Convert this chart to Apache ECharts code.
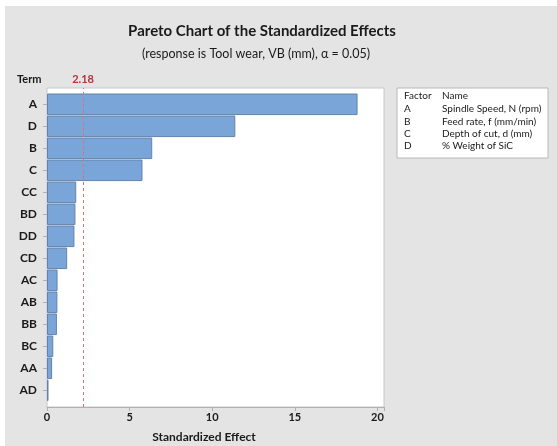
<!DOCTYPE html>
<html>
<head>
<meta charset="utf-8">
<script src="https://cdn.jsdelivr.net/npm/echarts@6/dist/echarts.min.js"></script>
<style>
  html, body { margin: 0; padding: 0; background: #ffffff; }
  #main { position: absolute; left: 5px; top: 6px; width: 552px; height: 440px; background: #e4e4e4; }
</style>
</head>
<body>
<div id="main"></div>
<script>
// terms, top to bottom
var terms = ["A", "D", "B", "C", "CC", "BD", "DD", "CD", "AC", "AB", "BB", "BC", "AA", "AD"];
var effects = [18.8, 11.4, 6.37, 5.78, 1.77, 1.72, 1.66, 1.22, 0.64, 0.63, 0.6, 0.38, 0.31, 0.09];
var xTicks = [0, 5, 10, 15, 20];
var critical = 2.18;
var factorKeys = ["A", "B", "C", "D"];
var factorNames = ["Spindle Speed, N (rpm)", "Feed rate, f (mm/min)", "Depth of cut, d (mm)", "% Weight of SiC"];

var FONT = "Lato";
var myChart = echarts.init(document.getElementById("main"));

// legend table on the right
var legendFont = "10px " + FONT;
var legendItems = [
  { type: "rect", shape: { x: 392, y: 82, width: 151, height: 70 },
    style: { fill: "#ffffff", stroke: "#b8b8b8", lineWidth: 1 } },
  { type: "text", x: 399, y: 90, style: { text: "Factor", font: legendFont, fill: "#1a1a1a", verticalAlign: "middle" } },
  { type: "text", x: 437, y: 90, style: { text: "Name", font: legendFont, fill: "#1a1a1a", verticalAlign: "middle" } }
];
for (var i = 0; i < factorKeys.length; i++) {
  legendItems.push({ type: "text", x: 399, y: 103 + i * 12.3,
    style: { text: factorKeys[i], font: legendFont, fill: "#1a1a1a", verticalAlign: "middle" } });
  legendItems.push({ type: "text", x: 437, y: 103 + i * 12.3,
    style: { text: factorNames[i], font: legendFont, fill: "#1a1a1a", verticalAlign: "middle" } });
}

var option = {
  animation: false,
  title: [
    { text: "Pareto Chart of the Standardized Effects", left: 252, top: 13, textAlign: "center",
      textStyle: { fontFamily: FONT, fontSize: 15, fontWeight: "bold", color: "#1a1a1a" } },
    { text: "(response is Tool wear, VB (mm), \u03b1 = 0.05)", left: 246, top: 36, textAlign: "center",
      textStyle: { fontFamily: FONT, fontSize: 12.5, fontWeight: "normal", color: "#1a1a1a" } },
    { text: "Term", left: 7, top: 63,
      textStyle: { fontFamily: FONT, fontSize: 11, fontWeight: "bold", color: "#1a1a1a" } },
    { text: "Standardized Effect", left: 194, top: 420, textAlign: "center",
      textStyle: { fontFamily: FONT, fontSize: 12, fontWeight: "bold", color: "#1a1a1a" } }
  ],
  grid: [
    // plot box
    { left: 42, top: 82, width: 337, height: 319, show: true, backgroundColor: "#ffffff", borderColor: "#c8c8c8", borderWidth: 1 },
    // bars, inset a bit like minitab
    { left: 42, top: 87.3, width: 337, height: 308 }
  ],
  xAxis: [
    {
      gridIndex: 0, type: "value", min: 0, max: 20.4, interval: 5,
      splitLine: { show: false },
      axisLine: { show: true, lineStyle: { color: "#b0b0b0" } },
      axisTick: { show: true, length: 4, lineStyle: { color: "#b0b0b0" } },
      axisLabel: {
        color: "#1a1a1a", fontFamily: FONT, fontSize: 11, fontWeight: "bold", margin: 5,
        formatter: function (v) { return xTicks.indexOf(v) >= 0 ? String(v) : ""; }
      }
    },
    { gridIndex: 1, type: "value", min: 0, max: 20.4, show: false }
  ],
  yAxis: [
    { gridIndex: 0, type: "value", min: 0, max: 1, show: false },
    {
      gridIndex: 1, type: "category", data: terms, inverse: true,
      axisLine: { show: false },
      axisTick: { show: true, length: 4, alignWithLabel: true, lineStyle: { color: "#b0b0b0" } },
      axisLabel: { color: "#1a1a1a", fontFamily: FONT, fontSize: 12, fontWeight: "bold", margin: 10 }
    }
  ],
  series: [
    {
      // only carries the critical value line
      type: "scatter", xAxisIndex: 0, yAxisIndex: 0, data: [], silent: true,
      markLine: {
        symbol: "none", silent: true,
        lineStyle: { color: "#e07070", type: [3, 3], width: 1 },
        label: { show: true, position: "end", formatter: "2.18", color: "#b3343a",
          fontFamily: FONT, fontSize: 11, fontWeight: "bold", distance: 3 },
        data: [{ xAxis: critical }]
      }
    },
    {
      type: "bar", xAxisIndex: 1, yAxisIndex: 1, data: effects,
      barCategoryGap: "2%",
      itemStyle: { color: "#7aa5d9", borderColor: "#6283ab", borderWidth: 1 },
      z: 3
    }
  ],
  graphic: legendItems
};
myChart.setOption(option);
</script>
</body>
</html>
